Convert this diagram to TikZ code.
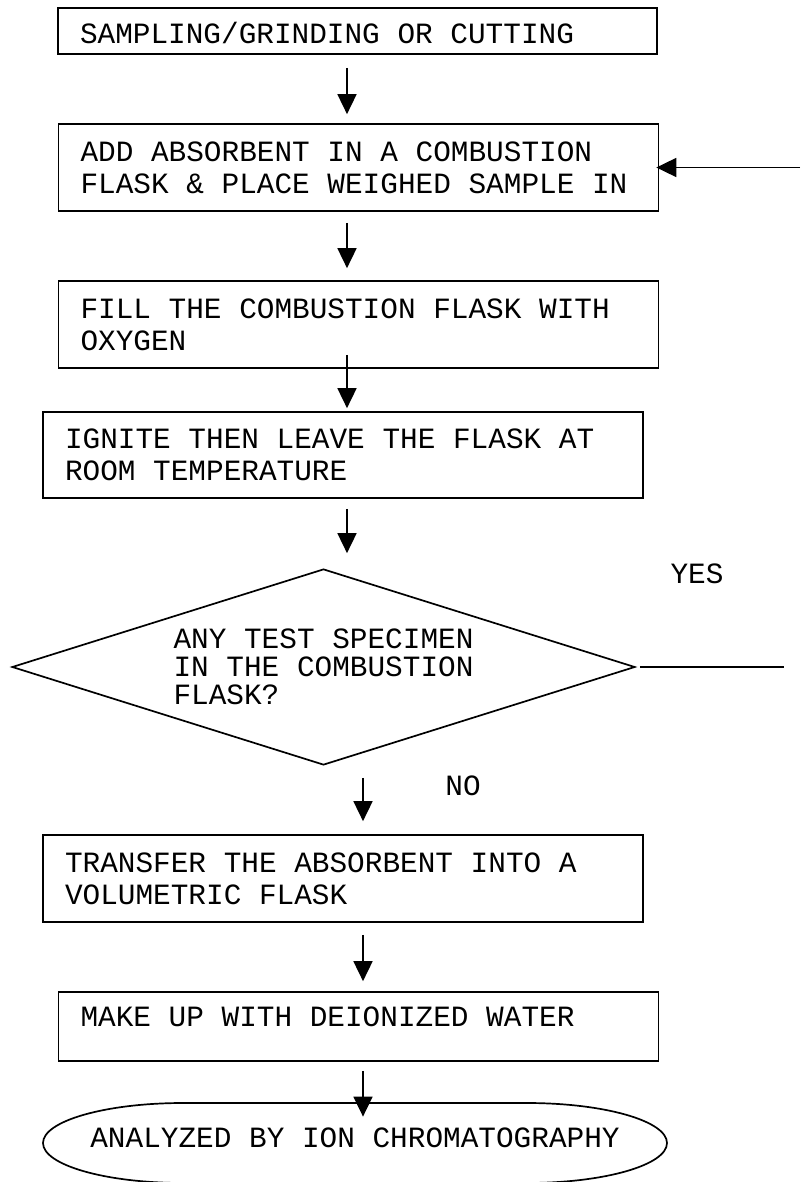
\documentclass[tikz,border=0pt]{standalone}
\usepackage{fontspec}
\newfontfamily\boxfont{Liberation Mono}
\usetikzlibrary{arrows.meta,shapes.geometric}
\tikzset{>={Triangle[length=10pt,width=9.5pt]}}
\tikzset{
  every node/.style = {font=\boxfont\fontsize{14.7pt}{16pt}\selectfont},
  stepbox/.style = {draw, line width=0.85pt, align=flush left, inner xsep=11pt,
    inner ysep=0pt, text width=278pt},
  onerow/.style = {text height=13pt, text depth=0pt},
  decision/.style = {draw, diamond, aspect=3.2, line width=0.85pt,
    inner sep=0pt, align=flush left, minimum width=311.5pt, minimum height=98pt,
    font=\boxfont\fontsize{14.7pt}{14pt}\selectfont},
  flow/.style = {->, line width=0.85pt}
}

\begin{document}
\begin{tikzpicture}[x=0.5pt,y=0.5pt]
  \useasboundingbox (0,0) rectangle (800,-1182);
  % steps
  \node[stepbox,onerow,minimum height=23pt,text width=277.5pt] (samp) at (357.5,-31)
    {SAMPLING/GRINDING OR CUTTING};
  \node[stepbox,minimum height=43.5pt] (absorb) at (358.5,-167.5)
    {ADD ABSORBENT IN A COMBUSTION\\FLASK \& PLACE WEIGHED SAMPLE IN};
  \node[stepbox,minimum height=43.5pt] (oxy) at (358.5,-324.5)
    {FILL THE COMBUSTION FLASK WITH\\OXYGEN};
  \node[stepbox,minimum height=43pt] (ignite) at (343,-455)
    {IGNITE THEN LEAVE THE FLASK AT\\ROOM TEMPERATURE};
  \node[decision] (test) at (323.5,-667)
    {ANY TEST SPECIMEN\\IN THE COMBUSTION\\FLASK?};
  \node[stepbox,minimum height=43.5pt] (transfer) at (343,-878.5)
    {TRANSFER THE ABSORBENT INTO A\\VOLUMETRIC FLASK};
  \node[stepbox,text height=4pt,text depth=4pt,minimum height=34.5pt] (makeup) at (358.5,-1026.5)
    {MAKE UP WITH DEIONIZED WATER};
  % terminal
  \node[inner sep=0pt,minimum width=312pt,minimum height=40pt,
    text height=8pt,text depth=4pt] (anal) at (355,-1143)
    {ANALYZED BY ION CHROMATOGRAPHY};
  \draw[line width=0.85pt] (183,-1103) -- (527,-1103)
    arc[start angle=90,end angle=-90,x radius=140,y radius=40] -- (183,-1183)
    arc[start angle=270,end angle=90,x radius=140,y radius=40] -- cycle;
  % flow arrows
  \coordinate (ax) at (347,0);
  \coordinate (bx) at (363,0);
  \foreach \from/\to/\col/\s/\e in {samp/absorb/ax/6.5pt/4.5pt,
      absorb/oxy/ax/5.5pt/6pt, oxy/ignite/ax/-7pt/1.5pt,
      ignite/test/ax/5pt/7.5pt, test/transfer/bx/6pt/6.5pt,
      transfer/makeup/bx/6pt/5pt, makeup/anal/bx/4.5pt/-7pt} {
    \draw[flow,shorten <=\s,shorten >=\e] (\from.south -| \col) -- (\to.north -| \col);
  }
  % loop back
  \coordinate (ret) at (800,-167.5);
  \draw[flow,shorten >=-1.5pt] (ret) -- (absorb.east);
  \coordinate (yesend) at (784,-667);
  \draw[line width=0.85pt,shorten <=2pt] (test.east) -- (yesend);
  \node (yes) at (697,-574) {YES};
  \node (no) at (463,-786) {NO};
\end{tikzpicture}
\end{document}
